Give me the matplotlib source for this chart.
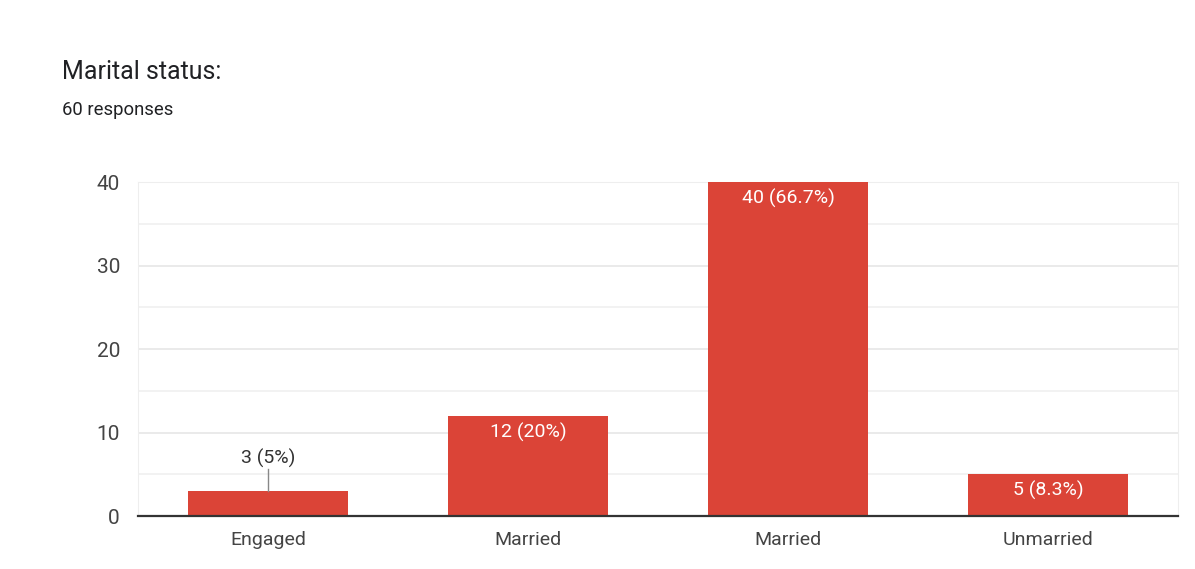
import matplotlib.pyplot as plt
import numpy as np

categories = ['Engaged', 'Married', 'Married', 'Unmarried']
counts = [3, 12, 40, 5]
labels = ['3 (5%)', '12 (20%)', '40 (66.7%)', '5 (8.3%)']
total_responses = 60

plt.rcParams['font.family'] = ['Roboto', 'DejaVu Sans']

fig = plt.figure(figsize=(11.95, 5.69), dpi=100)
ax = fig.add_axes([0.1155, 0.0931, 0.8703, 0.5870])

x = np.arange(len(categories))
ax.bar(x, counts, width=0.615, color='#DB4437', zorder=3)

ax.set_xlim(-0.5, len(categories) - 0.5)
ax.set_ylim(0, 40)
ax.set_yticks([0, 10, 20, 30, 40])
ax.set_yticks([5, 15, 25, 35], minor=True)
ax.set_xticks(x)
ax.set_xticklabels(categories)
ax.tick_params(axis='both', length=0, labelsize=14, colors='#444444')
ax.tick_params(axis='y', labelsize=15, pad=13)
ax.tick_params(axis='x', pad=11)
ax.tick_params(which='minor', length=0)

ax.grid(axis='y', which='major', color='#e6e6e6', linewidth=1.2, zorder=0)
ax.grid(axis='y', which='minor', color='#f0f0f0', linewidth=1.2, zorder=0)

for side in ['left', 'right', 'top']:
    ax.spines[side].set_color('#eeeeee')
ax.spines['bottom'].set_color('#333333')
ax.spines['bottom'].set_linewidth(1.6)
ax.spines['bottom'].set_zorder(4)

for xi, v, lab in zip(x, counts, labels):
    if v >= 5:
        ax.text(xi, v - 0.8, lab, ha='center', va='top', color='white', fontsize=14, zorder=5)
    else:
        ax.plot([xi, xi], [v, v + 2.6], color='#888888', linewidth=1, zorder=4)
        ax.text(xi, v + 2.8, lab, ha='center', va='bottom', color='#333333', fontsize=14, zorder=5)

fig.text(62 / 1195, 1 - 72 / 569, 'Marital status:', fontsize=18, color='#202124', va='center', ha='left')
fig.text(62 / 1195, 1 - 110 / 569, f'{total_responses} responses', fontsize=13.3, color='#202124', va='center', ha='left')

fig.savefig('out.png', dpi=100, facecolor='white')
